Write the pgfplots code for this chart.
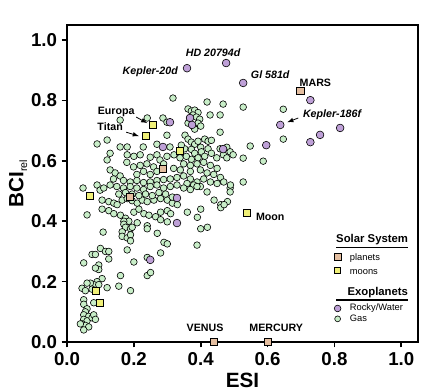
\documentclass[border=0pt]{standalone}
\usepackage{fontspec}
\setmainfont{Liberation Sans}
\usepackage{pgfplots}
\usepackage{pgfplotstable}
\pgfplotsset{compat=1.18}
\definecolor{gasc}{RGB}{200,238,200}
\definecolor{rockc}{RGB}{190,160,215}
\definecolor{planc}{RGB}{228,190,160}
\definecolor{moonc}{RGB}{240,240,120}

\pgfplotstableread{
x y
0.317 0.808
0.419 0.795
0.467 0.788
0.527 0.778
0.647 0.771
0.647 0.672
0.587 0.599
0.527 0.609
0.548 0.649
0.458 0.752
0.428 0.752
0.240 0.742
0.159 0.735
0.287 0.742
0.299 0.728
0.458 0.695
0.299 0.685
0.527 0.530
0.488 0.510
0.488 0.497
0.419 0.497
0.389 0.321
0.108 0.364
0.362 0.772
0.372 0.765
0.382 0.768
0.392 0.760
0.377 0.752
0.367 0.742
0.387 0.745
0.397 0.738
0.392 0.725
0.377 0.715
0.362 0.725
0.400 0.715
0.382 0.705
0.353 0.685
0.362 0.672
0.372 0.662
0.382 0.655
0.392 0.665
0.412 0.672
0.422 0.665
0.432 0.668
0.400 0.645
0.372 0.638
0.382 0.625
0.402 0.630
0.422 0.640
0.432 0.625
0.412 0.615
0.392 0.610
0.372 0.605
0.357 0.615
0.352 0.640
0.342 0.652
0.090 0.656
0.120 0.669
0.159 0.646
0.180 0.646
0.228 0.646
0.269 0.655
0.308 0.646
0.129 0.625
0.120 0.603
0.180 0.620
0.200 0.615
0.219 0.620
0.249 0.612
0.269 0.620
0.278 0.603
0.299 0.615
0.320 0.620
0.338 0.610
0.458 0.640
0.478 0.645
0.488 0.630
0.468 0.620
0.448 0.610
0.478 0.610
0.497 0.620
0.129 0.570
0.144 0.560
0.159 0.550
0.139 0.540
0.199 0.580
0.219 0.585
0.239 0.590
0.259 0.580
0.229 0.565
0.209 0.555
0.249 0.555
0.269 0.565
0.289 0.590
0.179 0.595
0.349 0.590
0.369 0.585
0.389 0.590
0.409 0.595
0.429 0.585
0.449 0.575
0.399 0.570
0.419 0.560
0.439 0.555
0.459 0.545
0.369 0.565
0.339 0.570
0.319 0.575
0.169 0.535
0.189 0.530
0.209 0.535
0.229 0.528
0.249 0.530
0.269 0.535
0.289 0.538
0.309 0.540
0.329 0.545
0.349 0.550
0.369 0.540
0.389 0.530
0.409 0.540
0.429 0.530
0.449 0.525
0.469 0.530
0.489 0.520
0.399 0.515
0.379 0.520
0.359 0.525
0.048 0.510
0.090 0.520
0.099 0.503
0.110 0.510
0.129 0.520
0.149 0.515
0.169 0.510
0.189 0.515
0.209 0.510
0.229 0.505
0.249 0.515
0.269 0.520
0.289 0.510
0.309 0.515
0.329 0.520
0.349 0.510
0.369 0.505
0.389 0.515
0.105 0.470
0.125 0.465
0.140 0.460
0.150 0.455
0.165 0.470
0.180 0.475
0.195 0.468
0.210 0.460
0.225 0.470
0.240 0.465
0.260 0.470
0.280 0.475
0.300 0.470
0.315 0.460
0.330 0.455
0.155 0.490
0.175 0.495
0.195 0.490
0.215 0.485
0.235 0.490
0.255 0.485
0.275 0.495
0.295 0.490
0.315 0.480
0.440 0.470
0.460 0.455
0.480 0.465
0.060 0.421
0.105 0.440
0.125 0.435
0.140 0.425
0.160 0.420
0.175 0.410
0.185 0.400
0.200 0.430
0.215 0.440
0.230 0.425
0.245 0.420
0.265 0.415
0.280 0.430
0.300 0.435
0.310 0.425
0.280 0.405
0.300 0.398
0.400 0.440
0.390 0.413
0.460 0.445
0.470 0.455
0.360 0.430
0.170 0.400
0.170 0.390
0.175 0.380
0.190 0.375
0.165 0.365
0.165 0.350
0.180 0.345
0.190 0.355
0.195 0.380
0.210 0.395
0.240 0.385
0.240 0.375
0.270 0.360
0.400 0.375
0.420 0.380
0.190 0.335
0.180 0.305
0.290 0.330
0.300 0.325
0.280 0.295
0.100 0.310
0.115 0.300
0.125 0.300
0.125 0.275
0.075 0.290
0.085 0.290
0.050 0.262
0.200 0.265
0.240 0.280
0.095 0.255
0.095 0.240
0.085 0.245
0.240 0.220
0.250 0.230
0.160 0.220
0.155 0.185
0.120 0.180
0.190 0.170
0.105 0.210
0.090 0.200
0.080 0.190
0.070 0.195
0.060 0.195
0.045 0.178
0.055 0.170
0.075 0.175
0.095 0.190
0.050 0.140
0.050 0.125
0.060 0.110
0.055 0.100
0.050 0.090
0.065 0.085
0.050 0.075
0.060 0.070
0.045 0.060
0.055 0.055
0.065 0.050
0.050 0.040
0.075 0.080
0.080 0.090
0.085 0.075
0.080 0.130
0.040 0.060
}\gasdata

\pgfplotstableread{
x y
0.359 0.907
0.476 0.924
0.527 0.858
0.728 0.801
0.638 0.719
0.817 0.709
0.757 0.686
0.728 0.662
0.596 0.652
0.368 0.742
0.308 0.728
0.374 0.719
0.467 0.639
0.287 0.646
0.329 0.477
0.329 0.394
0.249 0.272
}\rockdata

\pgfplotstableread{
x y
0.698 0.831
0.287 0.573
0.189 0.480
0.440 0.000
0.600 0.000
}\planetdata

\pgfplotstableread{
x y
0.257 0.719
0.237 0.682
0.539 0.427
0.338 0.632
0.069 0.483
0.087 0.169
0.099 0.129
}\moondata

\newcommand{\legheader}[2]{\hspace*{-4.4pt}\parbox[b][#1][b]{54pt}{\raggedleft\fontsize{8.5}{10}\selectfont\bfseries #2\par\vspace{1.2pt}\hrule height 1.3pt}}
\newcommand{\legtext}[3]{\hspace*{6pt}\rule[-#1]{0pt}{#2}#3}

\begin{document}
\begin{tikzpicture}
\begin{axis}[
  scale only axis, width=263.25pt, height=237.75pt,
  xmin=0, xmax=1.05, ymin=0, ymax=1.05,
  clip=false,
  axis line style={line width=1.6pt},
  tick pos=left, tick align=outside, major tick length=4pt,
  every tick/.style={black, line width=1.2pt},
  xtick={0,0.2,0.4,0.6,0.8,1.0}, ytick={0,0.2,0.4,0.6,0.8,1.0},
  /pgf/number format/.cd, fixed, fixed zerofill, precision=1, assume math mode=true,
  /pgfplots/.cd,
  tick label style={font=\fontsize{14}{16}\selectfont\bfseries},
  xlabel={ESI}, ylabel={BCI\raisebox{-0.35ex}{\fontsize{8}{8}\selectfont\mdseries rel}},
  label style={font=\fontsize{15.5}{18}\selectfont\bfseries},
  xlabel style={yshift=1pt},
  ylabel style={yshift=-4pt},
  legend style={draw=none, fill=none, at={(axis cs:0.798,0.357)}, anchor=north west,
    font=\fontsize{7}{8}\selectfont, row sep=0pt, inner sep=0pt,
    nodes={inner sep=0.5pt}},
  legend cell align=left,
  legend image code/.code={\draw[#1] plot coordinates {(0pt,0pt)};},
]
\addplot[only marks, mark=*, mark size=2.5pt, mark options={fill=gasc, draw=black, line width=0.45pt}, forget plot] table {\gasdata};
\addplot[only marks, mark=*, mark size=2.9pt, mark options={fill=rockc, draw=black, line width=0.45pt}, forget plot] table {\rockdata};
\addplot[only marks, mark=square*, mark size=2.7pt, mark options={fill=planc, draw=black, line width=0.5pt}, forget plot] table {\planetdata};
\addplot[only marks, mark=square*, mark size=2.7pt, mark options={fill=moonc, draw=black, line width=0.5pt}, forget plot] table {\moondata};

\addlegendimage{empty legend}
\addlegendentry{\legheader{10pt}{Solar System}}
\addlegendimage{only marks, mark=square*, mark size=2.7pt, mark options={fill=planc, draw=black, line width=0.5pt}}
\addlegendentry{\legtext{3.5pt}{10pt}{planets}}
\addlegendimage{only marks, mark=square*, mark size=2.2pt, mark options={fill=moonc, draw=black, line width=0.5pt}}
\addlegendentry{\legtext{3pt}{11.3pt}{moons}}
\addlegendimage{empty legend}
\addlegendentry{\legheader{16.9pt}{Exoplanets}}
\addlegendimage{only marks, mark=*, mark size=2.5pt, mark options={fill=rockc, draw=black, line width=0.45pt}}
\addlegendentry{\legtext{2.5pt}{6pt}{Rocky/Water}}
\addlegendimage{only marks, mark=*, mark size=2.2pt, mark options={fill=gasc, draw=black, line width=0.45pt}}
\addlegendentry{\legtext{2.5pt}{8pt}{Gas}}

\node[font=\fontsize{8}{9}\selectfont\bfseries\itshape] at (axis cs:0.249,0.894) {Kepler-20d};
\node[font=\fontsize{8}{9}\selectfont\bfseries\itshape] at (axis cs:0.437,0.957) {HD 20794d};
\node[font=\fontsize{8}{9}\selectfont\bfseries\itshape] at (axis cs:0.608,0.887) {Gl 581d};
\node[font=\fontsize{8}{9}\selectfont\bfseries\itshape] at (axis cs:0.793,0.752) {Kepler-186f};
\node[font=\fontsize{8}{9}\selectfont\bfseries] at (axis cs:0.743,0.858) {MARS};
\node[font=\fontsize{8}{9}\selectfont\bfseries] at (axis cs:0.147,0.762) {Europa};
\node[font=\fontsize{8}{9}\selectfont\bfseries] at (axis cs:0.129,0.712) {Titan};
\node[font=\fontsize{8}{9}\selectfont\bfseries] at (axis cs:0.608,0.414) {Moon};
\node[font=\fontsize{8}{9}\selectfont\bfseries] at (axis cs:0.413,0.046) {VENUS};
\node[font=\fontsize{8}{9}\selectfont\bfseries] at (axis cs:0.626,0.046) {MERCURY};
\draw[-latex, line width=0.6pt] (axis cs:0.692,0.742) -- (axis cs:0.659,0.728);
\draw[-latex, line width=0.6pt] (axis cs:0.207,0.745) -- (axis cs:0.240,0.725);
\draw[-latex, line width=0.6pt] (axis cs:0.177,0.695) -- (axis cs:0.215,0.682);
\end{axis}
\pgfresetboundingbox
\path ([shift={(-50.25pt,-37.5pt)}]current axis.south west) rectangle ([shift={(21pt,18.75pt)}]current axis.north east);
\end{tikzpicture}
\end{document}
